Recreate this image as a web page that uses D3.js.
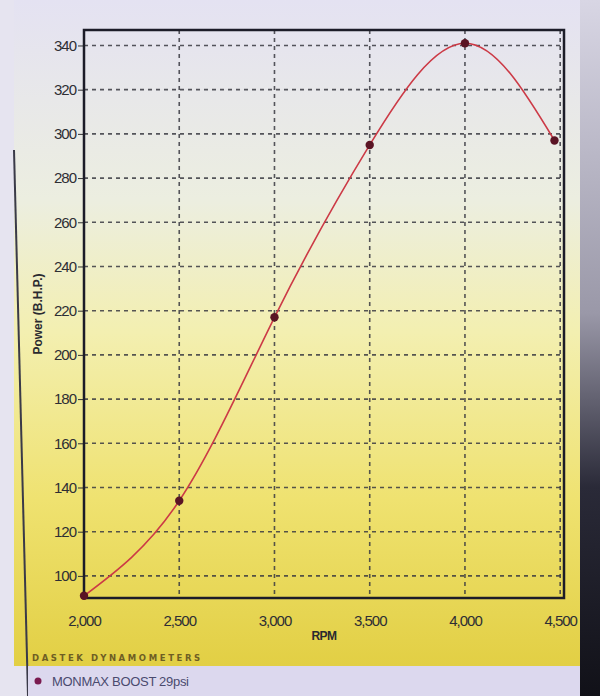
<!DOCTYPE html>
<html><head><meta charset="utf-8">
<script src="https://cdn.jsdelivr.net/npm/d3@7"></script>
<style>body{margin:0;background:#e6e4f0;}svg{display:block;}</style>
</head><body>
<script>
const rpm = [2000, 2500, 3000, 3500, 4000, 4470];
const power = [91, 134, 217, 295, 341, 297];
const xTicks = [2000, 2500, 3000, 3500, 4000, 4500];
const yTicks = [100, 120, 140, 160, 180, 200, 220, 240, 260, 280, 300, 320, 340];
const seriesName = "MONMAX BOOST 29psi";
const brand = "DASTEK DYNAMOMETERS";

const W = 600, H = 696;
const m = {left: 84, right: 564, top: 30, bottom: 598};
const svg = d3.select("body").append("svg").attr("width", W).attr("height", H);
const defs = svg.append("defs");
const g1 = defs.append("linearGradient").attr("id","bg").attr("x1",0).attr("y1",0).attr("x2",0).attr("y2",1);
[[0,"#e4e2f2"],[0.3,"#eceee0"],[0.5,"#f3efb0"],[0.75,"#efe270"],[1,"#e2cf44"]].forEach(([o,c])=>g1.append("stop").attr("offset",o).attr("stop-color",c));
const g2 = defs.append("linearGradient").attr("id","rt").attr("x1",0).attr("y1",0).attr("x2",0).attr("y2",1);
[[0,"#d8d6e4"],[0.45,"#9a98a8"],[0.7,"#2a2a38"],[1,"#111118"]].forEach(([o,c])=>g2.append("stop").attr("offset",o).attr("stop-color",c));

// panel background
svg.append("rect").attr("x",0).attr("y",0).attr("width",W).attr("height",H).attr("fill","#e6e4f0");
svg.append("rect").attr("x",14).attr("y",0).attr("width",566).attr("height",666).attr("fill","url(#bg)");
svg.append("rect").attr("x",580).attr("y",0).attr("width",20).attr("height",H).attr("fill","url(#rt)");
svg.append("line").attr("x1",14).attr("x2",28).attr("y1",150).attr("y2",H).attr("stroke","#3a3a48").attr("stroke-width",2);
// legend band
svg.append("rect").attr("x",28).attr("y",666).attr("width",552).attr("height",30).attr("fill","#dcd8ee");

const x = d3.scaleLinear().domain([2000, 4520]).range([m.left, m.right]);
const y = d3.scaleLinear().domain([90, 347]).range([m.bottom, m.top]);

const grid = svg.append("g").attr("stroke","#3a3a42").attr("stroke-width",1.6).attr("stroke-dasharray","4,4");
grid.selectAll(".h").data(yTicks).join("line").attr("x1",m.left).attr("x2",m.right).attr("y1",d=>y(d)).attr("y2",d=>y(d)).attr("opacity",0.85);
grid.selectAll(".v").data(xTicks).join("line").attr("x1",d=>x(d)).attr("x2",d=>x(d)).attr("y1",m.top).attr("y2",m.bottom).attr("opacity",0.85);

// axes
const ya = svg.append("g").attr("transform",`translate(${m.left},0)`)
  .call(d3.axisLeft(y).tickValues(yTicks).tickSize(6).tickFormat(d3.format("d")));
const xa = svg.append("g").attr("transform",`translate(0,${m.bottom})`)
  .call(d3.axisBottom(x).tickValues(xTicks).tickSize(0).tickPadding(17).tickFormat(d3.format(",")));
[ya, xa].forEach(a=>{
  a.select(".domain").remove();
  a.selectAll("text").attr("font-family","Liberation Sans, Arial, sans-serif").attr("font-size",15).attr("fill","#2e2e34").style("letter-spacing","-1px");
  a.selectAll("line").attr("stroke","#333");
});
ya.selectAll("text").attr("x",-8);

// frame
svg.append("rect").attr("x",m.left).attr("y",m.top).attr("width",m.right-m.left).attr("height",m.bottom-m.top)
  .attr("fill","none").attr("stroke","#1c1c28").attr("stroke-width",2.5);

const line = d3.line().x((d,i)=>x(rpm[i])).y(d=>y(d)).curve(d3.curveNatural);
svg.append("path").datum(power).attr("d",line).attr("fill","none").attr("stroke","#cc3a46").attr("stroke-width",1.6);
svg.selectAll(".pt").data(power).join("circle").attr("cx",(d,i)=>x(rpm[i])).attr("cy",d=>y(d)).attr("r",4.2).attr("fill","#5a1424");

svg.append("text").attr("transform",`translate(42,${(m.top+m.bottom)/2}) rotate(-90)`).attr("text-anchor","middle")
  .attr("font-family","Liberation Sans, Arial, sans-serif").attr("font-weight","bold").attr("font-size",12).attr("fill","#2a2a30").text("Power (B.H.P.)");
svg.append("text").attr("x",(m.left+m.right)/2).attr("y",640).attr("text-anchor","middle")
  .attr("font-family","Liberation Sans, Arial, sans-serif").attr("font-weight","bold").attr("font-size",12).attr("fill","#2a2a30").style("letter-spacing","-0.5px").text("RPM");
svg.append("text").attr("x",32).attr("y",661).attr("font-family","DejaVu Sans, sans-serif").attr("font-weight","bold").attr("font-size",8.5)
  .attr("fill","#6e5e24").style("letter-spacing","2.6px").text(brand);
svg.append("circle").attr("cx",38).attr("cy",681).attr("r",3.5).attr("fill","#7a1a50");
svg.append("text").attr("x",52).attr("y",686).attr("font-family","Liberation Sans, Arial, sans-serif").attr("font-size",13)
  .attr("fill","#4a4a6e").style("letter-spacing","-0.3px").text(seriesName);
</script>
</body></html>
